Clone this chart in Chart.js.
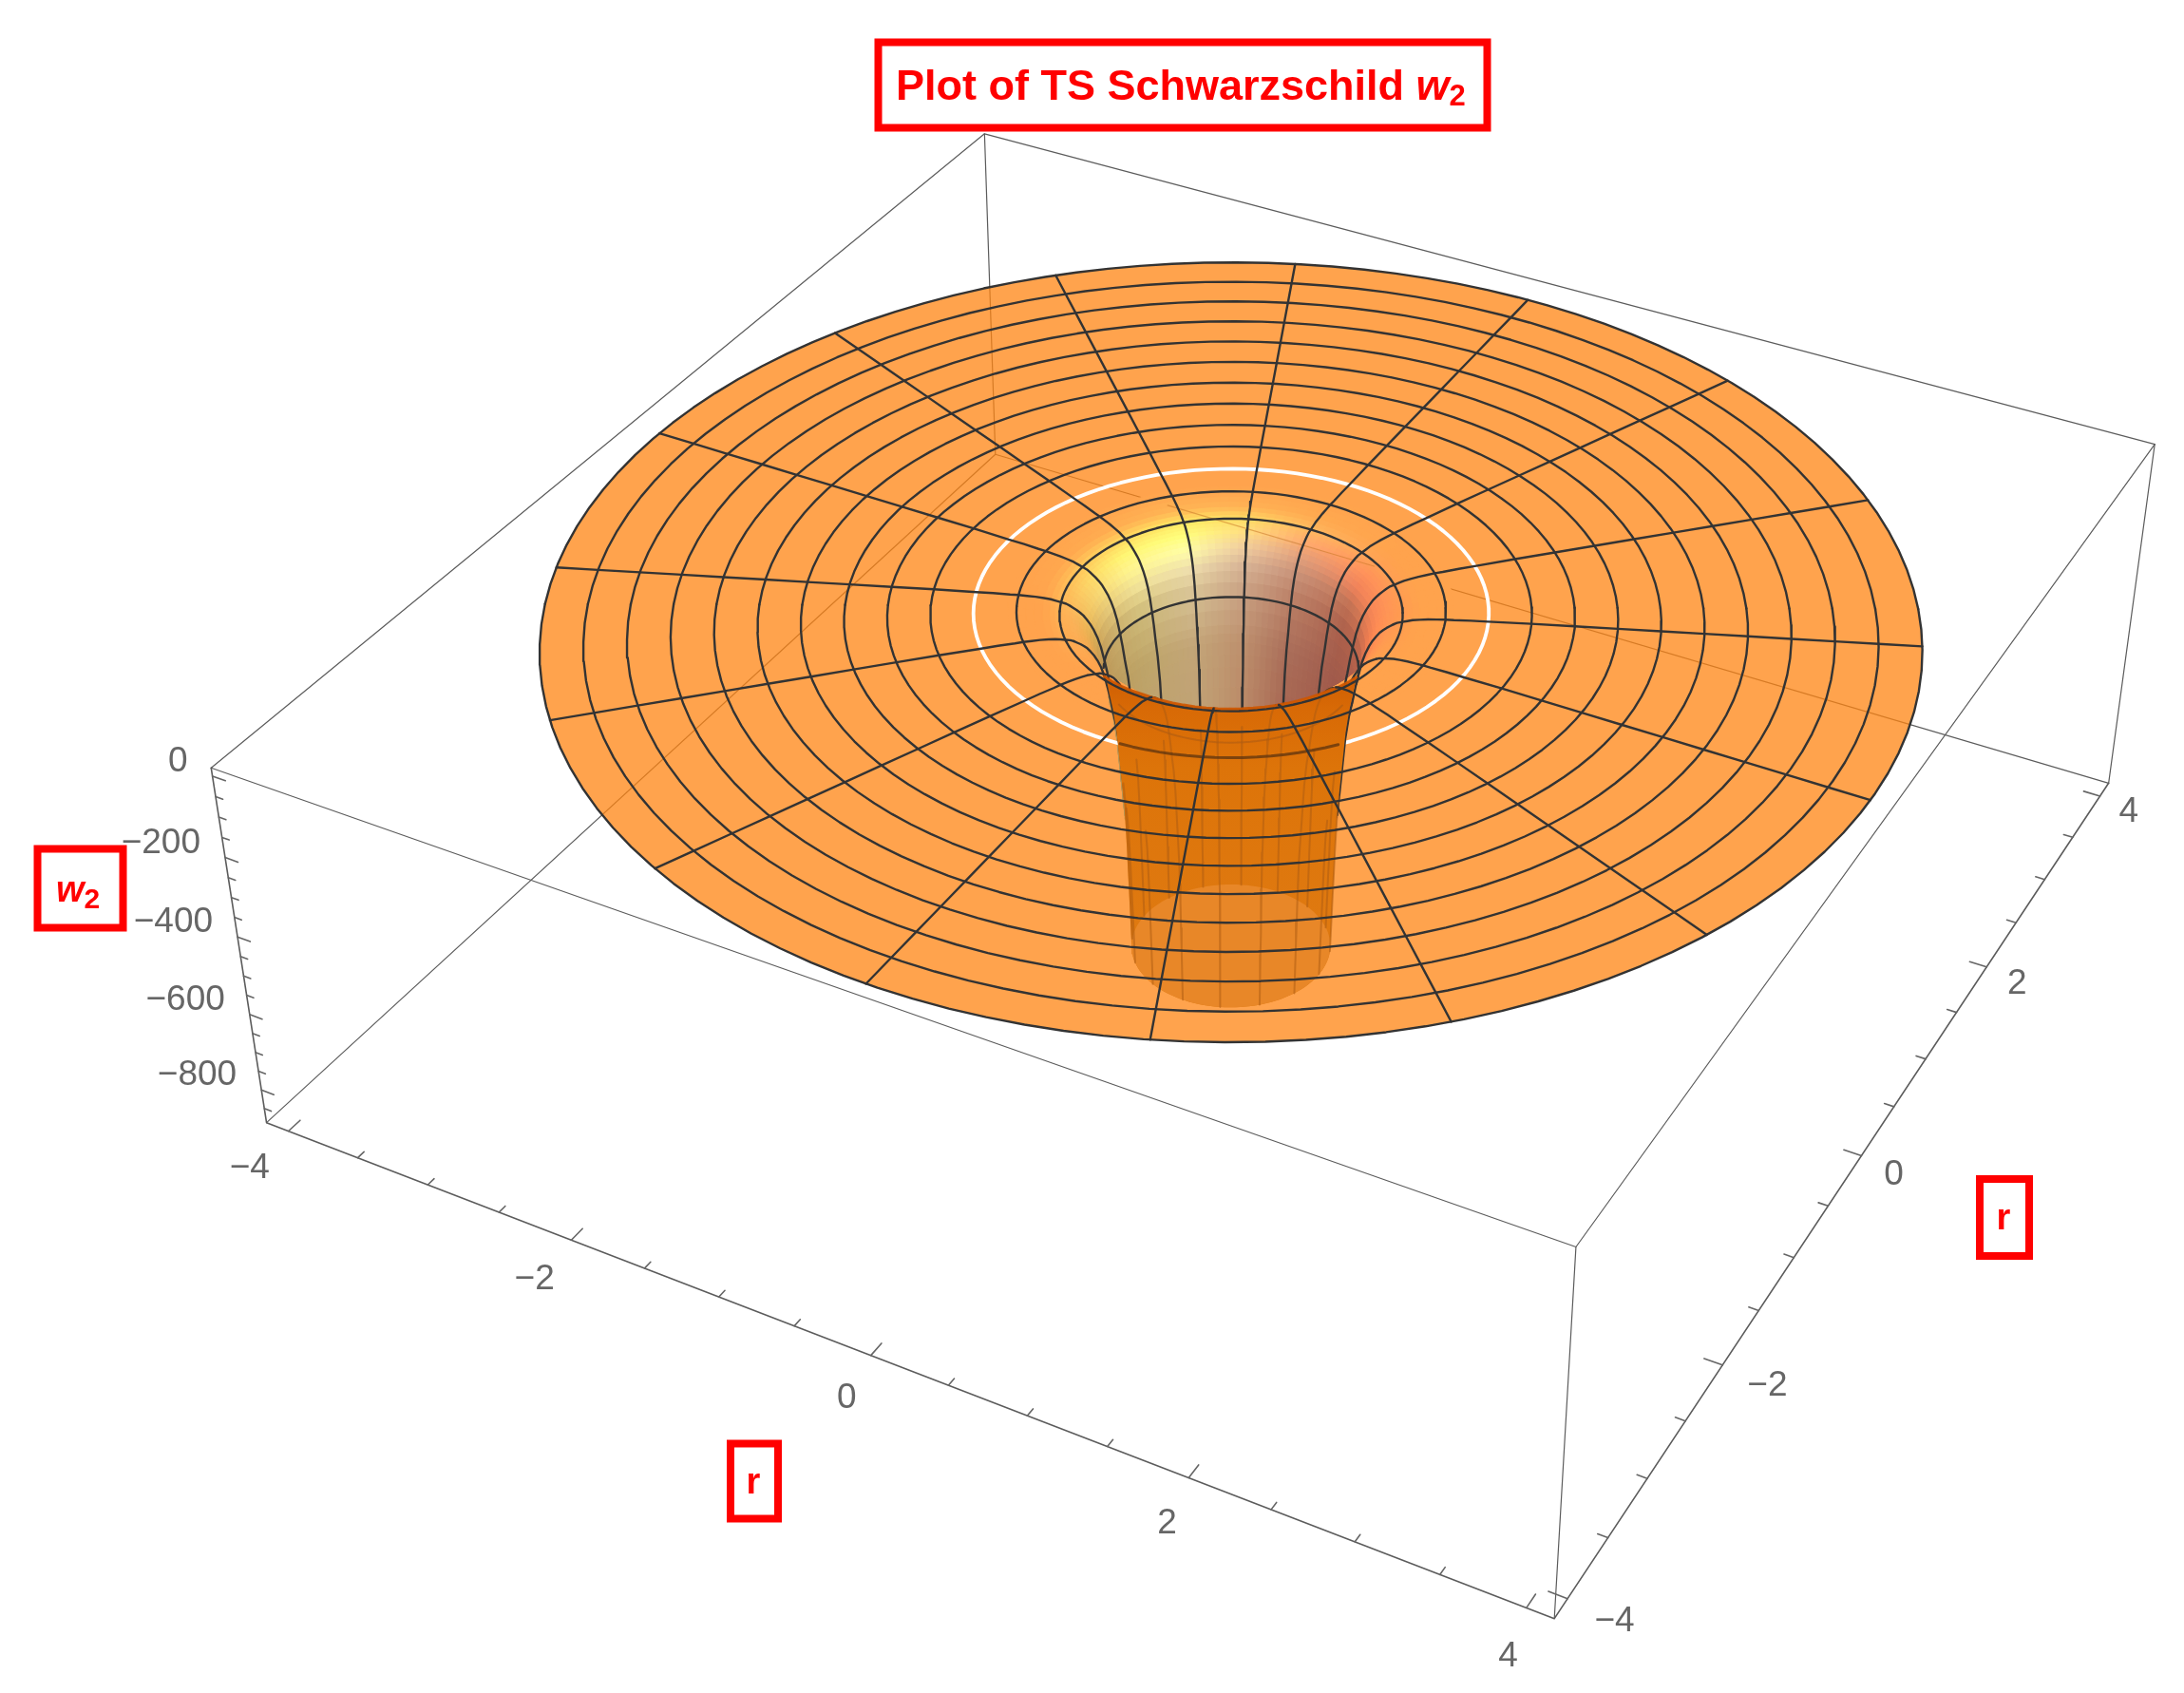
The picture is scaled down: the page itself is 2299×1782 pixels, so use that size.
<!DOCTYPE html>
<html>
<head>
<meta charset="utf-8">
<title>Plot of TS Schwarzschild w2</title>
<script src="https://cdn.jsdelivr.net/npm/chart.js@4/dist/chart.umd.min.js"></script>
<style>
  html, body { margin: 0; padding: 0; background: #fff; }
  canvas { display: block; }
</style>
</head>
<body>
<canvas id="surfaceChart" width="2299" height="1782"></canvas>
<script>
// values
const surfR = [4, 3.75, 3.5, 3.25, 3, 2.75, 2.5, 2.25, 2, 1.75, 1.5, 1.4, 1.3, 1.25, 1.2, 1.15, 1.1, 1.06, 1.03, 1, 0.97, 0.95, 0.93, 0.91, 0.89, 0.87, 0.85, 0.83, 0.81, 0.79, 0.77, 0.75, 0.735, 0.72, 0.71, 0.7, 0.69, 0.68, 0.67, 0.66, 0.65, 0.64, 0.635, 0.63, 0.625, 0.62, 0.615, 0.61];
const surfW = [-1, -1, -1, -1, -1, -1, -1, -1, -1, -1, -2, -2, -3, -3, -4, -5, -7, -9, -12, -15, -18, -22, -27, -32, -38, -45, -55, -66, -80, -98, -122, -156, -185, -220, -240, -260, -290, -320, -370, -420, -470, -520, -570, -620, -690, -750, -820, -888];
const meshRings = [4, 3.75, 3.5, 3.25, 3, 2.75, 2.5, 2.25, 2, 1.75, 1.25, 1, 0.75];
const whiteRing = 1.5;
const meshAngles = [0, 22.5, 45, 67.5, 90, 112.5, 135, 157.5, 180, 202.5, 225, 247.5, 270, 292.5, 315, 337.5];
const rTicksMajor = [-4, -2, 0, 2, 4];
const rTicksMinor = [-3.5, -3, -2.5, -1.5, -1, -0.5, 0.5, 1, 1.5, 2.5, 3, 3.5];
const wTicksMajor = [0, -200, -400, -600, -800];
const wTicksMinor = [-50, -100, -150, -250, -300, -350, -450, -500, -550, -650, -700, -750, -850];

// plot box limits and where its corners land on the page
const boxR = 4.16, boxTop = 20, boxBottom = -888;
const cameraPoints = [
    [-boxR, -boxR, boxTop, 222, 808], [-boxR, -boxR, boxBottom, 281, 1182],
    [boxR, -boxR, boxTop, 1660, 1312], [boxR, -boxR, boxBottom, 1635, 1704],
    [boxR, boxR, boxTop, 2268, 468], [boxR, boxR, boxBottom, 2220, 824],
    [-boxR, boxR, boxTop, 1036, 141], [-boxR, boxR, boxBottom, 1048, 478]
];

// surface shading, columns by angle, rows by radius
const shadeAngles = [258, 245, 208, 164, 137, 114, 90, 58, 28, -10, -22];
const shadeRadii = [1.3, 1.1, 1, 0.92, 0.85, 0.8, 0.75, 0.7, 0.62];
const O = [255, 163, 77];
const shadeRows = [
    [O, O, O, O, O, O, O, O, O, O, O],
    [O, O, O, [255, 172, 80], [255, 182, 85], [255, 178, 85], [255, 170, 80], O, O, O, O],
    [O, O, [255, 178, 85], [255, 215, 95], [255, 235, 100], [255, 220, 100], [255, 185, 95], [255, 160, 85], [255, 155, 80], O, O],
    [O, O, [250, 180, 90], [255, 245, 115], [255, 255, 125], [255, 222, 130], [255, 170, 110], [255, 145, 90], [255, 150, 85], O, O],
    [O, [250, 150, 70], [238, 182, 85], [255, 245, 145], [255, 253, 170], [240, 205, 160], [225, 160, 125], [240, 130, 90], [255, 140, 85], [255, 150, 80], O],
    [O, [220, 140, 70], [215, 170, 85], [240, 225, 150], [238, 222, 172], [215, 180, 150], [200, 145, 120], [195, 115, 85], [240, 125, 80], [240, 130, 80], O],
    [O, [190, 130, 70], [190, 150, 85], [205, 185, 120], [212, 190, 145], [200, 160, 130], [185, 125, 100], [170, 95, 75], [190, 100, 75], [190, 100, 75], O],
    [O, [180, 140, 75], [185, 150, 85], [190, 165, 105], [195, 165, 120], [190, 145, 110], [170, 110, 90], [160, 90, 75], [165, 90, 75], [165, 90, 75], O],
    [O, [180, 140, 75], [185, 150, 85], [190, 160, 115], [190, 160, 115], [185, 135, 100], [165, 95, 75], [160, 90, 70], [160, 90, 70], [160, 90, 70], O]
];

const MESH = '#333333', BOX = '#5c5c5c', TICK = '#666666', RED = '#ff0000';
const FONT = '"Liberation Sans", Arial, sans-serif';
const MESH_W = 2.4;

// fit the perspective camera to the box corners
function fitCamera(points) {
    const A = [], b = [];
    points.forEach(([X, Y, Zr, u, v]) => {
        const Z = Zr / 200, U = u / 1000, V = v / 1000;
        A.push([X, Y, Z, 1, 0, 0, 0, 0, -U * X, -U * Y, -U * Z]); b.push(U);
        A.push([0, 0, 0, 0, X, Y, Z, 1, -V * X, -V * Y, -V * Z]); b.push(V);
    });
    const n = 11;
    const M = [];
    for (let i = 0; i < n; i++) {
        M.push(new Array(n + 1).fill(0));
        for (let j = 0; j < n; j++) A.forEach(row => { M[i][j] += row[i] * row[j]; });
        A.forEach((row, k) => { M[i][n] += row[i] * b[k]; });
    }
    for (let c = 0; c < n; c++) {
        let p = c;
        for (let i = c + 1; i < n; i++) if (Math.abs(M[i][c]) > Math.abs(M[p][c])) p = i;
        [M[c], M[p]] = [M[p], M[c]];
        for (let i = 0; i < n; i++) {
            if (i === c) continue;
            const f = M[i][c] / M[c][c];
            for (let j = c; j <= n; j++) M[i][j] -= f * M[c][j];
        }
    }
    return M.map((row, i) => row[n] / row[i]);
}
const cam = fitCamera(cameraPoints);

function project(X, Y, W) {
    const Z = W / 200;
    const d = cam[8] * X + cam[9] * Y + cam[10] * Z + 1;
    return {
        x: 1000 * (cam[0] * X + cam[1] * Y + cam[2] * Z + cam[3]) / d,
        y: 1000 * (cam[4] * X + cam[5] * Y + cam[6] * Z + cam[7]) / d
    };
}
function polar(r, deg, w) {
    const t = deg * Math.PI / 180;
    return project(r * Math.cos(t), r * Math.sin(t), w);
}
const wAt = r => surfW[surfR.indexOf(r)];

// angle on the surface for a direction measured round the front of the hole
const frontAngle = a => 28 - a;

function shadeColor(r, deg) {
    let i = 0;
    while (i < shadeRadii.length - 2 && r < shadeRadii[i + 1]) i++;
    let j = 0;
    while (j < shadeAngles.length - 2 && deg < shadeAngles[j + 1]) j++;
    const fr = Math.min(1, Math.max(0, (shadeRadii[i] - r) / (shadeRadii[i] - shadeRadii[i + 1])));
    const fa = Math.min(1, Math.max(0, (shadeAngles[j] - deg) / (shadeAngles[j] - shadeAngles[j + 1])));
    const c = [0, 1, 2].map(k => {
        const top = shadeRows[i][j][k] * (1 - fa) + shadeRows[i][j + 1][k] * fa;
        const bot = shadeRows[i + 1][j][k] * (1 - fa) + shadeRows[i + 1][j + 1][k] * fa;
        return Math.round(top * (1 - fr) + bot * fr);
    });
    return `rgb(${c[0]},${c[1]},${c[2]})`;
}

const canvas = document.getElementById('surfaceChart');
const ctx = canvas.getContext('2d');
const layers = [];

function addLine(points, color, width) {
    layers.push({
        data: points, showLine: true, fill: false, borderColor: color, borderWidth: width,
        pointRadius: 0, tension: 0, borderJoinStyle: 'round', borderCapStyle: 'round'
    });
}
function addShape(points, color, edge) {
    layers.push({
        data: points.concat([points[0]]), showLine: true, fill: 'shape', backgroundColor: color,
        borderColor: edge || 'rgba(0,0,0,0)', borderWidth: edge ? 1 : 0, pointRadius: 0, tension: 0
    });
}
function ringArc(r, w, a0, a1) {
    const pts = [];
    for (let a = a0; a <= a1; a += 3) pts.push(polar(r, frontAngle(a), w));
    return pts;
}

// 1. box edges at the back, seen through the surface
const corner = (sx, sy, w) => project(sx * boxR, sy * boxR, w);
addLine([corner(-1, -1, boxTop), corner(-1, 1, boxTop), corner(1, 1, boxTop)], BOX, 1.2);
addLine([corner(-1, 1, boxTop), corner(-1, 1, boxBottom)], BOX, 1.2);
addLine([corner(-1, -1, boxBottom), corner(-1, 1, boxBottom), corner(1, 1, boxBottom)], BOX, 1.2);

// 2. the flat part of the surface
addShape(ringArc(surfR[0], surfW[0], -180, 177), 'rgba(255,132,18,0.75)');

// 3. shaded throat, deepest rows first so the lip covers what is behind it
const throatRows = surfR.map((r, i) => i).filter(i => surfR[i] <= 1.3 && surfW[i] >= -520);
for (let k = throatRows.length - 1; k > 0; k--) {
    const i0 = throatRows[k - 1], i1 = throatRows[k];
    for (let deg = -22; deg < 258; deg += 3) {
        const col = shadeColor((surfR[i0] + surfR[i1]) / 2, deg + 1.5);
        addShape([
            polar(surfR[i0], deg, surfW[i0]), polar(surfR[i0], deg + 3, surfW[i0]),
            polar(surfR[i1], deg + 3, surfW[i1]), polar(surfR[i1], deg, surfW[i1])
        ], col, col);
    }
}

// box edge faintly visible across the throat
addLine([project(-2.76, boxR, boxBottom), project(-1.14, boxR, boxBottom)], 'rgba(200,120,40,0.55)', 1.2);

// 4. mesh lines behind the tube
meshRings.forEach(r => addLine(ringArc(r, wAt(r), -180, 0), MESH, MESH_W));
addLine(ringArc(whiteRing, wAt(whiteRing), -180, 180), '#ffffff', 3.8);
addLine(ringArc(0.75, wAt(0.75), -3, 0).concat(ringArc(0.75, wAt(0.75), 0, 12)), MESH, MESH_W);
const isFront = deg => Math.sin((deg - 28) * Math.PI / 180) < 0;
meshAngles.forEach(deg => {
    const pts = [];
    surfR.forEach((r, i) => {
        if (surfW[i] < -520) return;
        if (isFront(deg) && r > 0.95) return;
        pts.push(polar(r, deg, surfW[i]));
    });
    addLine(pts, MESH, MESH_W);
});

// 5. tube seen from outside, below the lip
const lip = [];
const lipRows = surfR.map((r, i) => i).filter(i => surfR[i] >= 0.8 && surfR[i] <= 1.15);
for (let a = 138; a >= 42; a -= 4) {
    let best = null;
    lipRows.forEach(i => {
        const p = polar(surfR[i], frontAngle(a), surfW[i]);
        if (!best || p.y < best.y) best = p;
    });
    lip.push(best);
}
const wallRows = surfR.map((r, i) => i).filter(i => surfR[i] <= 0.735);
const lastRow = surfR.length - 1;
const tube = [];
wallRows.slice().reverse().forEach(i => tube.push(polar(surfR[i], frontAngle(180), surfW[i])));
lip.forEach(p => tube.push(p));
wallRows.forEach(i => tube.push(polar(surfR[i], frontAngle(0), surfW[i])));
ringArc(surfR[lastRow], surfW[lastRow], 0, 180).forEach(p => tube.push(p));
const tubeFill = ctx.createLinearGradient(0, 700, 0, 1062);
tubeFill.addColorStop(0, '#cc5a02');
tubeFill.addColorStop(0.13, '#d86a06');
tubeFill.addColorStop(0.3, '#dd7409');
tubeFill.addColorStop(1, '#e07c14');
addShape(tube, tubeFill);
addShape(ringArc(surfR[lastRow], surfW[lastRow], -180, 177), '#e88728');

// 6. lines seen through the surface
const DIM = 'rgba(175,92,18,0.55)';
meshAngles.forEach(deg => {
    const pts = [];
    const front = Math.sin((deg - 28) * Math.PI / 180) < -0.7;
    surfR.forEach((r, i) => {
        if (front ? r <= 0.91 : surfW[i] <= -470) pts.push(polar(r, deg, surfW[i]));
    });
    addLine(pts, DIM, 2);
});
addLine(ringArc(0.75, wAt(0.75), 30, 150), 'rgba(175,92,18,0.6)', 2);
addLine(ringArc(whiteRing, wAt(whiteRing), 0, 180).filter(p => Math.abs(p.x - 1296) < 122), 'rgba(100,55,15,0.8)', 3);

// 7. mesh lines in front
addLine(lip, 'rgba(205,85,0,0.9)', 3);
meshRings.filter(r => r >= 1).forEach(r => addLine(ringArc(r, wAt(r), 0, 180), MESH, MESH_W));
meshAngles.filter(isFront).forEach(deg => {
    const pts = [];
    surfR.forEach((r, i) => { if (r >= 0.95) pts.push(polar(r, deg, surfW[i])); });
    addLine(pts, MESH, MESH_W);
});

// 8. front box edges and axis ticks
addLine([corner(-1, -1, boxTop), corner(1, -1, boxTop), corner(1, 1, boxTop)], BOX, 1.2);
addLine([corner(1, -1, boxTop), corner(1, -1, boxBottom)], BOX, 1.2);
addLine([corner(1, 1, boxTop), corner(1, 1, boxBottom)], BOX, 1.2);
addLine([corner(-1, -1, boxTop), corner(-1, -1, boxBottom), corner(1, -1, boxBottom), corner(1, 1, boxBottom)], BOX, 1.6);
rTicksMajor.concat(rTicksMinor).forEach(t => {
    const len = rTicksMajor.includes(t) ? 0.11 : 0.06;
    addLine([project(t, -boxR, boxBottom), project(t, -boxR + len, boxBottom)], TICK, 1.6);
    addLine([project(boxR, t, boxBottom), project(boxR - len, t, boxBottom)], TICK, 1.6);
});
wTicksMajor.concat(wTicksMinor).forEach(t => {
    const len = wTicksMajor.includes(t) ? 0.09 : 0.05;
    addLine([project(-boxR, -boxR, t), project(-boxR + len, -boxR, t)], TICK, 1.6);
});

function minus(v) {
    return v < 0 ? '\u2212' + Math.abs(v) : String(v);
}

const labelsPlugin = {
    id: 'boxLabels',
    afterDraw(chart) {
        const c = chart.ctx;
        const sx = chart.scales.x, sy = chart.scales.y;
        const put = (text, p, dx, dy, align) => {
            c.textAlign = align;
            c.fillText(text, sx.getPixelForValue(p.x) + dx, sy.getPixelForValue(p.y) + dy);
        };
        c.save();
        c.textBaseline = 'middle';
        c.fillStyle = TICK;
        c.font = '37px ' + FONT;
        wTicksMajor.forEach(t => put(minus(t), project(-boxR, -boxR, t), -26, -15, 'right'));
        rTicksMajor.forEach(t => {
            put(minus(t), project(t, -boxR - 0.45, boxBottom), 31, -8, 'right');
            put(minus(t), project(boxR + 0.3, t, boxBottom), -27, 3, 'left');
        });

        // framed red labels
        c.strokeStyle = RED;
        c.fillStyle = RED;
        c.lineWidth = 8;
        c.strokeRect(924.5, 44.5, 641, 90);
        c.strokeRect(769, 1519.5, 50, 79);
        c.strokeRect(2084, 1241, 52, 81);
        c.strokeRect(39.5, 893.5, 90, 83);

        const wSub = (x, y, size, subSize) => {
            c.textAlign = 'left';
            c.font = 'italic bold ' + size + 'px ' + FONT;
            c.fillText('w', x, y);
            const w = c.measureText('w').width;
            c.font = 'bold ' + subSize + 'px ' + FONT;
            c.fillText('2', x + w, y + size * 0.22);
        };
        c.textAlign = 'left';
        c.font = 'bold 45px ' + FONT;
        const title = 'Plot of TS Schwarzschild ';
        c.fillText(title, 943, 93);
        wSub(943 + c.measureText(title).width, 93, 45, 31);
        wSub(59, 939, 38, 30);
        c.textAlign = 'center';
        c.font = 'bold 38px ' + FONT;
        c.fillText('r', 793, 1562);
        c.fillText('r', 2109, 1284);
        c.restore();
    }
};

new Chart(ctx, {
    type: 'scatter',
    data: { datasets: layers.reverse() },
    plugins: [labelsPlugin],
    options: {
        responsive: false,
        animation: false,
        events: [],
        layout: { padding: 0 },
        plugins: { legend: { display: false }, tooltip: { enabled: false }, title: { display: false } },
        scales: {
            x: { type: 'linear', min: 0, max: 2299, display: false },
            y: { type: 'linear', min: 0, max: 1782, reverse: true, display: false }
        }
    }
});
</script>
</body>
</html>
